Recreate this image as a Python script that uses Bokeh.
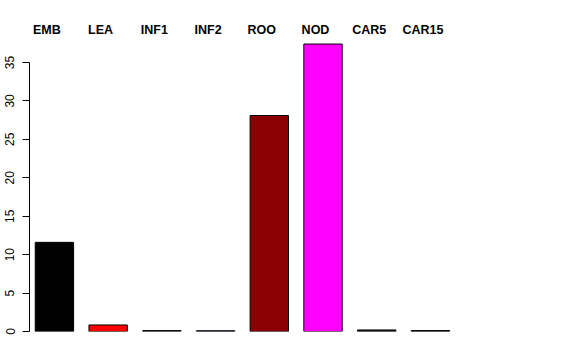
from bokeh.plotting import figure
from bokeh.models import Range1d, FixedTicker, ColumnDataSource
from bokeh.embed import file_html
from bokeh.resources import INLINE

categories = ["EMB", "LEA", "INF1", "INF2", "ROO", "NOD", "CAR5", "CAR15"]
values = [11.6, 0.85, 0.12, 0.1, 28.1, 37.4, 0.2, 0.12]
colors = ["#000000", "#FF0000", "#2E5E2E", "#483D8B", "#8B0000", "#FF00FF", "#1a1a1a", "#000000"]
y_ticks = [0, 5, 10, 15, 20, 25, 30, 35]

xs = list(range(len(categories)))
src = ColumnDataSource(dict(x=xs, top=values, color=colors))

p = figure(width=576, height=360, output_backend="svg", toolbar_location=None,
           x_range=Range1d(-0.464, 9.70), y_range=Range1d(0, 37.86),
           min_border_left=29, min_border_right=1, min_border_top=40, min_border_bottom=29,
           x_axis_location="above")
p.outline_line_color = None
p.grid.visible = False
p.background_fill_color = "white"
p.border_fill_color = "white"

p.vbar(x="x", top="top", bottom=0, width=0.714, fill_color="color",
       line_color="black", line_width=1, source=src)

# y axis
ya = p.yaxis[0]
ya.ticker = FixedTicker(ticks=y_ticks)
ya.bounds = (0, 35)
ya.major_tick_out = 7
ya.major_tick_in = 0
ya.minor_tick_line_color = None
ya.major_label_orientation = "vertical"
ya.major_label_text_font = "Liberation Sans"
ya.major_label_text_font_size = "12px"
ya.major_label_text_color = "black"
ya.major_label_standoff = 8
ya.axis_line_color = "black"
ya.major_tick_line_color = "black"

# category labels on top
xa = p.xaxis[0]
offs = [x - 0.14 for x in xs]
xa.ticker = FixedTicker(ticks=offs)
xa.major_label_overrides = {o: c for o, c in zip(offs, categories)}
xa.axis_line_color = None
xa.major_tick_line_color = None
xa.major_tick_out = 0
xa.major_tick_in = 0
xa.minor_tick_out = 0
xa.minor_tick_line_color = None
xa.major_label_text_font = "Liberation Sans"
xa.major_label_text_font_style = "bold"
xa.major_label_text_font_size = "12.5px"
xa.major_label_text_color = "black"
xa.major_label_standoff = 4

open("out.html", "w").write(file_html(p, INLINE))
